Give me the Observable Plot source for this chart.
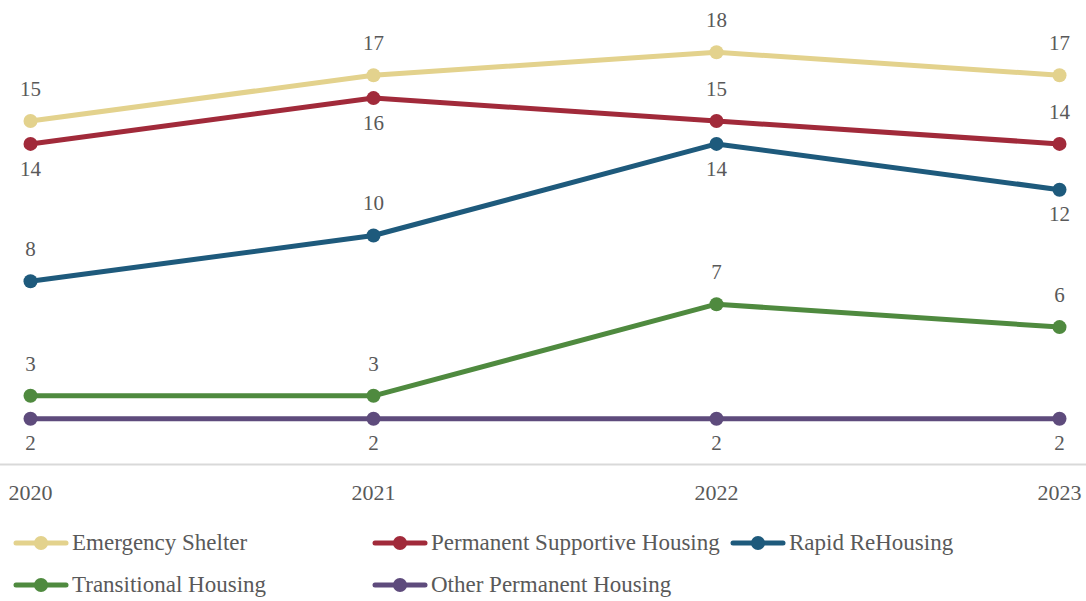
<!DOCTYPE html>
<html>
<head>
<meta charset="utf-8">
<script src="https://cdn.jsdelivr.net/npm/d3@7"></script>
<script src="https://cdn.jsdelivr.net/npm/@observablehq/plot@0.6"></script>
<style>
  html, body { margin: 0; padding: 0; background: #fff; }
  body { width: 1086px; height: 601px; overflow: hidden; font-family: 'Liberation Serif', serif; }
  #legend { position: relative; height: 86px; color: #595959; font-size: 23px; font-family: 'Liberation Serif', serif; }
  .item { position: absolute; display: flex; align-items: center; height: 30px; white-space: nowrap; }
  .item svg { display: block; margin-right: 3px; }
</style>
</head>
<body>
<div id="chart"></div>
<div id="legend"></div>
<script>
const years = ["2020", "2021", "2022", "2023"];
const seriesNames = ["Emergency Shelter", "Permanent Supportive Housing", "Rapid ReHousing", "Transitional Housing", "Other Permanent Housing"];
const colors = ["#E3D28D", "#A12A3A", "#1E5A7C", "#4F8A3F", "#5E4B7C"];
const emergencyShelter = [15, 17, 18, 17];
const permanentSupportive = [14, 16, 15, 14];
const rapidReHousing = [8, 10, 14, 12];
const transitional = [3, 3, 7, 6];
const otherPermanent = [2, 2, 2, 2];
// label placement: 1 = above, -1 = below
const labelSide = [
  [1, 1, 1, 1],
  [-1, -1, 1, 1],
  [1, 1, -1, -1],
  [1, 1, 1, 1],
  [-1, -1, -1, -1]
];

const allValues = [emergencyShelter, permanentSupportive, rapidReHousing, transitional, otherPermanent];
const data = [];
allValues.forEach((vals, si) => {
  vals.forEach((v, i) => data.push({series: seriesNames[si], year: years[i], value: v, side: labelSide[si][i]}));
});

const FONT = "'Liberation Serif', serif";
const chart = Plot.plot({
  width: 1086,
  height: 515,
  marginLeft: 30,
  marginRight: 27,
  marginTop: 6,
  marginBottom: 51,
  style: {fontFamily: FONT, fontSize: "21px", color: "#595959", background: "#fff"},
  x: {type: "point", domain: years, padding: 0, label: null},
  y: {domain: [0, 20], axis: null},
  color: {domain: seriesNames, range: colors},
  marks: [
    Plot.ruleY([0], {stroke: "#d9d9d9", strokeWidth: 2, insetLeft: -30, insetRight: -27}),
    Plot.axisX({tickSize: 0, tickPadding: 20, fontSize: 22, fontFamily: FONT, fill: "#595959", label: null}),
    Plot.line(data, {x: "year", y: "value", z: "series", stroke: "series", strokeWidth: 5}),
    Plot.dot(data, {x: "year", y: "value", fill: "series", r: 7}),
    Plot.text(data.filter(d => d.side > 0), {x: "year", y: "value", text: d => String(d.value), dy: -32, fill: "#595959", fontSize: 21, fontFamily: FONT}),
    Plot.text(data.filter(d => d.side < 0), {x: "year", y: "value", text: d => String(d.value), dy: 25, fill: "#595959", fontSize: 21, fontFamily: FONT})
  ]
});
document.getElementById("chart").appendChild(chart);

const legend = document.getElementById("legend");
const positions = [[13, 13], [372, 13], [730, 13], [13, 55], [372, 55]];
seriesNames.forEach((name, i) => {
  const div = document.createElement("div");
  div.className = "item";
  div.style.left = positions[i][0] + "px";
  div.style.top = positions[i][1] + "px";
  const sw = d3.create("svg").attr("width", 56).attr("height", 20);
  sw.append("line").attr("x1", 3).attr("x2", 53).attr("y1", 10).attr("y2", 10).attr("stroke", colors[i]).attr("stroke-width", 5).attr("stroke-linecap", "round");
  sw.append("circle").attr("cx", 28).attr("cy", 10).attr("r", 7).attr("fill", colors[i]);
  div.appendChild(sw.node());
  const span = document.createElement("span");
  span.textContent = name;
  div.appendChild(span);
  legend.appendChild(div);
});
</script>
</body>
</html>
